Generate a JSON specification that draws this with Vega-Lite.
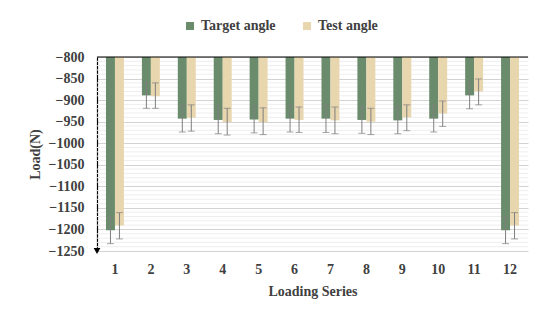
{
  "$schema": "https://vega.github.io/schema/vega-lite/v6.json",
  "width": 431,
  "height": 194,
  "autosize": "none",
  "padding": {"left": 97, "top": 57, "right": 22, "bottom": 75},
  "background": "white",
  "config": {
    "view": {"stroke": null},
    "font": "Liberation Serif",
    "axis": {"labelFont": "Liberation Serif", "titleFont": "Liberation Serif", "labelColor": "#404040", "titleColor": "#404040", "labelFontWeight": "bold", "titleFontWeight": "bold", "labelFontSize": 14, "titleFontSize": 14, "labelOverlap": false, "labelFlush": false}
  },
  "datasets": {
    "grid": [
      {"g": -1240}, {"g": -1230}, {"g": -1220}, {"g": -1210}, {"g": -1190}, {"g": -1180}, {"g": -1170}, {"g": -1160},
      {"g": -1140}, {"g": -1130}, {"g": -1120}, {"g": -1110}, {"g": -1090}, {"g": -1080}, {"g": -1070}, {"g": -1060},
      {"g": -1040}, {"g": -1030}, {"g": -1020}, {"g": -1010}, {"g": -990}, {"g": -980}, {"g": -970}, {"g": -960},
      {"g": -940}, {"g": -930}, {"g": -920}, {"g": -910}, {"g": -890}, {"g": -880}, {"g": -870}, {"g": -860},
      {"g": -840}, {"g": -830}, {"g": -820}, {"g": -810}
    ],
    "bars": [
      {"series": 1, "angle": "Target angle", "load": -1202, "lo": -1233, "hi": -1171},
      {"series": 2, "angle": "Target angle", "load": -889, "lo": -919, "hi": -859},
      {"series": 3, "angle": "Target angle", "load": -943, "lo": -974, "hi": -912},
      {"series": 4, "angle": "Target angle", "load": -946, "lo": -978, "hi": -914},
      {"series": 5, "angle": "Target angle", "load": -945, "lo": -976, "hi": -914},
      {"series": 6, "angle": "Target angle", "load": -943, "lo": -974, "hi": -912},
      {"series": 7, "angle": "Target angle", "load": -943, "lo": -975, "hi": -911},
      {"series": 8, "angle": "Target angle", "load": -946, "lo": -977, "hi": -915},
      {"series": 9, "angle": "Target angle", "load": -947, "lo": -978, "hi": -916},
      {"series": 10, "angle": "Target angle", "load": -943, "lo": -974, "hi": -912},
      {"series": 11, "angle": "Target angle", "load": -889, "lo": -920, "hi": -858},
      {"series": 12, "angle": "Target angle", "load": -1202, "lo": -1233, "hi": -1171},
      {"series": 1, "angle": "Test angle", "load": -1191, "lo": -1222, "hi": -1161},
      {"series": 2, "angle": "Test angle", "load": -891, "lo": -919, "hi": -860},
      {"series": 3, "angle": "Test angle", "load": -941, "lo": -972, "hi": -911},
      {"series": 4, "angle": "Test angle", "load": -951, "lo": -981, "hi": -919},
      {"series": 5, "angle": "Test angle", "load": -951, "lo": -980, "hi": -918},
      {"series": 6, "angle": "Test angle", "load": -946, "lo": -975, "hi": -916},
      {"series": 7, "angle": "Test angle", "load": -947, "lo": -978, "hi": -916},
      {"series": 8, "angle": "Test angle", "load": -950, "lo": -980, "hi": -919},
      {"series": 9, "angle": "Test angle", "load": -940, "lo": -971, "hi": -911},
      {"series": 10, "angle": "Test angle", "load": -931, "lo": -961, "hi": -902},
      {"series": 11, "angle": "Test angle", "load": -880, "lo": -911, "hi": -851},
      {"series": 12, "angle": "Test angle", "load": -1191, "lo": -1222, "hi": -1161}
    ]
  },
  "encoding": {
    "y": {
      "type": "quantitative",
      "scale": {"domain": [-1250, -800], "zero": false, "nice": false},
      "axis": {
        "title": "Load(N)",
        "tickCount": 10,
        "format": "d",
        "labelOverlap": false,
        "labelBound": false,
        "labelFlush": false,
        "labelSeparation": 0,
        "grid": true,
        "gridColor": "#d3d3d3",
        "gridWidth": 1,
        "ticks": false,
        "domain": true,
        "domainColor": "#000000",
        "domainWidth": 1.2,
        "labelPadding": 13,
        "titlePadding": 6
      }
    }
  },
  "layer": [
    {
      "data": {"name": "grid"},
      "mark": {"type": "rule", "color": "#eeeeee", "strokeWidth": 1},
      "encoding": {"y": {"field": "g", "type": "quantitative"}}
    },
    {
      "data": {"name": "bars"},
      "encoding": {
        "x": {
          "field": "series", "type": "ordinal",
          "scale": {"paddingInner": 0.5, "paddingOuter": 0.25},
          "axis": {"labelAngle": 0, "title": "Loading Series", "ticks": false, "domain": false, "labelPadding": 11, "titlePadding": 8, "grid": false}
        },
        "xOffset": {"field": "angle", "type": "nominal", "scale": {"paddingInner": 0, "paddingOuter": 0}}
      },
      "layer": [
        {
          "mark": {"type": "bar"},
          "encoding": {
            "y": {"field": "load", "type": "quantitative"},
            "y2": {"datum": -800},
            "color": {
              "field": "angle", "type": "nominal",
              "scale": {"domain": ["Target angle", "Test angle"], "range": ["#6a8c6c", "#e8d6ae"]},
              "legend": {
                "title": null, "orient": "none", "direction": "horizontal",
                "legendX": 86, "legendY": -38,
                "symbolType": "square", "symbolSize": 64, "symbolStrokeWidth": 0,
                "labelFont": "Liberation Serif", "labelFontSize": 14, "labelFontWeight": "bold", "labelColor": "#404040",
                "columnPadding": 24, "labelOffset": 4
              }
            }
          }
        },
        {
          "mark": {"type": "rule", "color": "#7f7f7f", "strokeWidth": 1},
          "encoding": {"y": {"field": "lo", "type": "quantitative"}, "y2": {"field": "hi"}}
        },
        {
          "mark": {"type": "tick", "color": "#7f7f7f", "size": 7, "thickness": 1},
          "encoding": {"y": {"field": "lo", "type": "quantitative"}}
        },
        {
          "mark": {"type": "tick", "color": "#7f7f7f", "size": 7, "thickness": 1},
          "encoding": {"y": {"field": "hi", "type": "quantitative"}}
        }
      ]
    },
    {
      "data": {"values": [{"v": -800}]},
      "mark": {"type": "rule", "color": "#000000", "strokeWidth": 1.2},
      "encoding": {"y": {"field": "v", "type": "quantitative"}}
    },
    {
      "data": {"values": [{"v": -1250}]},
      "mark": {"type": "point", "shape": "triangle-down", "filled": true, "color": "#000000", "size": 45, "opacity": 1},
      "encoding": {"y": {"field": "v", "type": "quantitative"}, "x": {"value": 0}}
    }
  ]
}
